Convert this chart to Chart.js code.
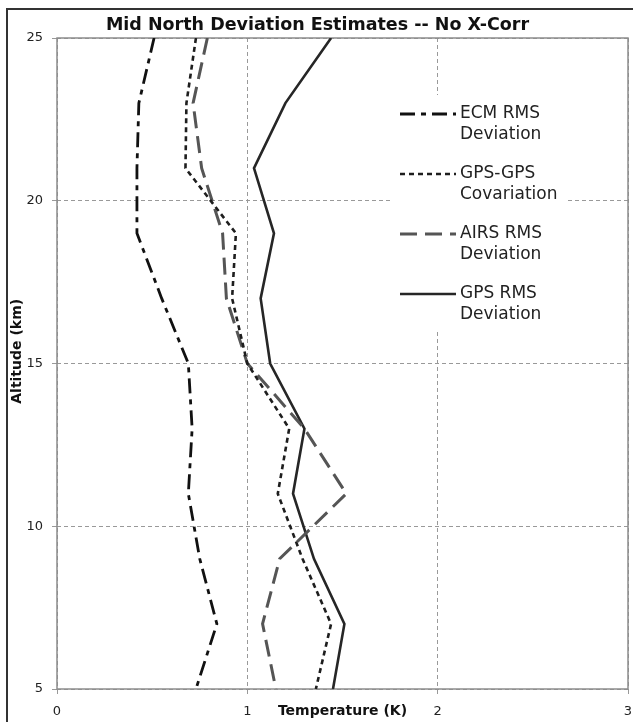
<!DOCTYPE html>
<html lang="en">
<head>
<meta charset="UTF-8" />
<title>Mid North Deviation Estimates -- No X-Corr</title>
<style>
    html, body {
        margin: 0;
        padding: 0;
        overflow: hidden;
        background: #fff;
    }
    #wrap {
        position: relative;
        width: 633px;
        height: 722px;
        overflow: hidden;
    }
    #chart {
        position: absolute;
        left: 0;
        top: 0;
    }
    #frame {
        position: absolute;
        left: 6px;
        top: 8px;
        width: 700px;
        height: 800px;
        border-left: 2px solid #333;
        border-top: 2px solid #333;
        pointer-events: none;
    }
</style>
</head>
<body>
<div id="wrap">
    <canvas id="chart" width="633" height="722"></canvas>
    <div id="frame"></div>
</div>

<script src="https://cdn.jsdelivr.net/npm/chart.js"></script>
<script>
    // altitude levels (km), top to bottom
    const altitude = [25, 23, 21, 19, 17, 15, 13, 11, 9, 7, 5];

    // temperature deviations (K) at each altitude
    const ecmRms     = [0.51, 0.43, 0.42, 0.42, 0.55, 0.69, 0.71, 0.69, 0.75, 0.84, 0.73];
    const gpsGpsCov  = [0.73, 0.68, 0.675, 0.94, 0.92, 1.00, 1.22, 1.16, 1.29, 1.44, 1.36];
    const airsRms    = [0.79, 0.715, 0.76, 0.87, 0.89, 1.00, 1.30, 1.52, 1.17, 1.08, 1.15];
    const gpsRms     = [1.44, 1.20, 1.035, 1.14, 1.07, 1.12, 1.30, 1.24, 1.35, 1.51, 1.45];

    const xTicks = [0, 1, 2, 3];
    const yTicks = [5, 10, 15, 20, 25];

    const FONT = "'DejaVu Sans', Verdana, sans-serif";

    function points(values) {
        return values.map((v, i) => ({ x: v, y: altitude[i] }));
    }

    // grey frame round the plot area
    const plotFrame = {
        id: 'plotFrame',
        beforeDatasetsDraw(chart) {
            const { ctx, chartArea: a } = chart;
            ctx.save();
            ctx.strokeStyle = '#8c8c8c';
            ctx.lineWidth = 1.5;
            ctx.strokeRect(a.left, a.top, a.right - a.left, a.bottom - a.top);
            ctx.restore();
        }
    };

    // legend with two-line labels, sitting inside the plot
    const sideLegend = {
        id: 'sideLegend',
        afterDraw(chart, args, o) {
            const ctx = chart.ctx;
            ctx.save();
            ctx.fillStyle = '#fff';
            ctx.fillRect(o.boxX, o.boxY, o.boxW, o.boxH);
            ctx.font = o.font;
            ctx.fillStyle = '#222';
            ctx.textBaseline = 'middle';
            chart.data.datasets.forEach((ds, i) => {
                const y = o.top + i * o.entryGap;
                ctx.beginPath();
                ctx.setLineDash(ds.borderDash || []);
                ctx.lineWidth = ds.borderWidth;
                ctx.strokeStyle = ds.borderColor;
                ctx.moveTo(o.lineX, y);
                ctx.lineTo(o.lineX + o.lineW, y);
                ctx.stroke();
                ctx.setLineDash([]);
                const cut = ds.label.lastIndexOf(' ');
                ctx.fillText(ds.label.slice(0, cut), o.textX, y);
                ctx.fillText(ds.label.slice(cut + 1), o.textX, y + o.lineGap);
            });
            ctx.restore();
        }
    };

    new Chart(document.getElementById('chart'), {
        type: 'line',
        data: {
            datasets: [
                {
                    label: 'ECM RMS Deviation',
                    data: points(ecmRms),
                    borderColor: '#111',
                    borderWidth: 2.8,
                    borderDash: [15, 6, 5, 6]
                },
                {
                    label: 'GPS-GPS Covariation',
                    data: points(gpsGpsCov),
                    borderColor: '#1e1e1e',
                    borderWidth: 2.6,
                    borderDash: [5, 4]
                },
                {
                    label: 'AIRS RMS Deviation',
                    data: points(airsRms),
                    borderColor: '#555',
                    borderWidth: 3,
                    borderDash: [17, 8]
                },
                {
                    label: 'GPS RMS Deviation',
                    data: points(gpsRms),
                    borderColor: '#262626',
                    borderWidth: 2.6,
                    borderDash: []
                }
            ]
        },
        options: {
            responsive: false,
            animation: false,
            layout: { padding: { left: 7, right: 5, top: 0, bottom: 0 } },
            elements: {
                point: { radius: 0 },
                line: { tension: 0, fill: false, borderCapStyle: 'butt' }
            },
            plugins: {
                legend: { display: false },
                tooltip: { enabled: false },
                title: {
                    display: true,
                    text: 'Mid North Deviation Estimates -- No X-Corr',
                    color: '#111',
                    font: { family: FONT, size: 17.5, weight: 'bold' },
                    padding: { top: 15, bottom: 2 }
                },
                sideLegend: {
                    font: '17px ' + FONT,
                    boxX: 390, boxY: 95, boxW: 175, boxH: 237,
                    top: 114, entryGap: 60, lineGap: 21,
                    lineX: 400, lineW: 56, textX: 460
                }
            },
            scales: {
                x: {
                    type: 'linear',
                    min: xTicks[0],
                    max: xTicks[xTicks.length - 1],
                    afterBuildTicks: s => { s.ticks = xTicks.map(v => ({ value: v })); },
                    afterFit: s => {
                        s.height = 33;
                        s.paddingLeft = 0;
                        s.paddingRight = 0;
                    },
                    border: { display: false, dash: [4, 3] },
                    grid: { color: '#999', lineWidth: 1, tickLength: 5 },
                    ticks: {
                        padding: 10,
                        color: '#222',
                        font: { family: FONT, size: 13 }
                    },
                    title: {
                        display: true,
                        text: 'Temperature (K)',
                        color: '#111',
                        font: { family: FONT, size: 14, weight: 'bold' },
                        padding: { top: 0, bottom: 2 }
                    }
                },
                y: {
                    type: 'linear',
                    min: yTicks[0],
                    max: yTicks[yTicks.length - 1],
                    afterBuildTicks: s => { s.ticks = yTicks.map(v => ({ value: v })); },
                    afterFit: s => { s.width = 50; },
                    border: { display: false, dash: [4, 3] },
                    grid: { color: '#999', lineWidth: 1, tickLength: 5 },
                    ticks: {
                        padding: 9,
                        color: '#222',
                        font: { family: FONT, size: 13 }
                    },
                    title: {
                        display: true,
                        text: '     Altitude (km)',
                        color: '#111',
                        font: { family: FONT, size: 14, weight: 'bold' },
                        padding: { top: 2, bottom: 0 }
                    }
                }
            }
        },
        plugins: [plotFrame, sideLegend]
    });
</script>
</body>
</html>
